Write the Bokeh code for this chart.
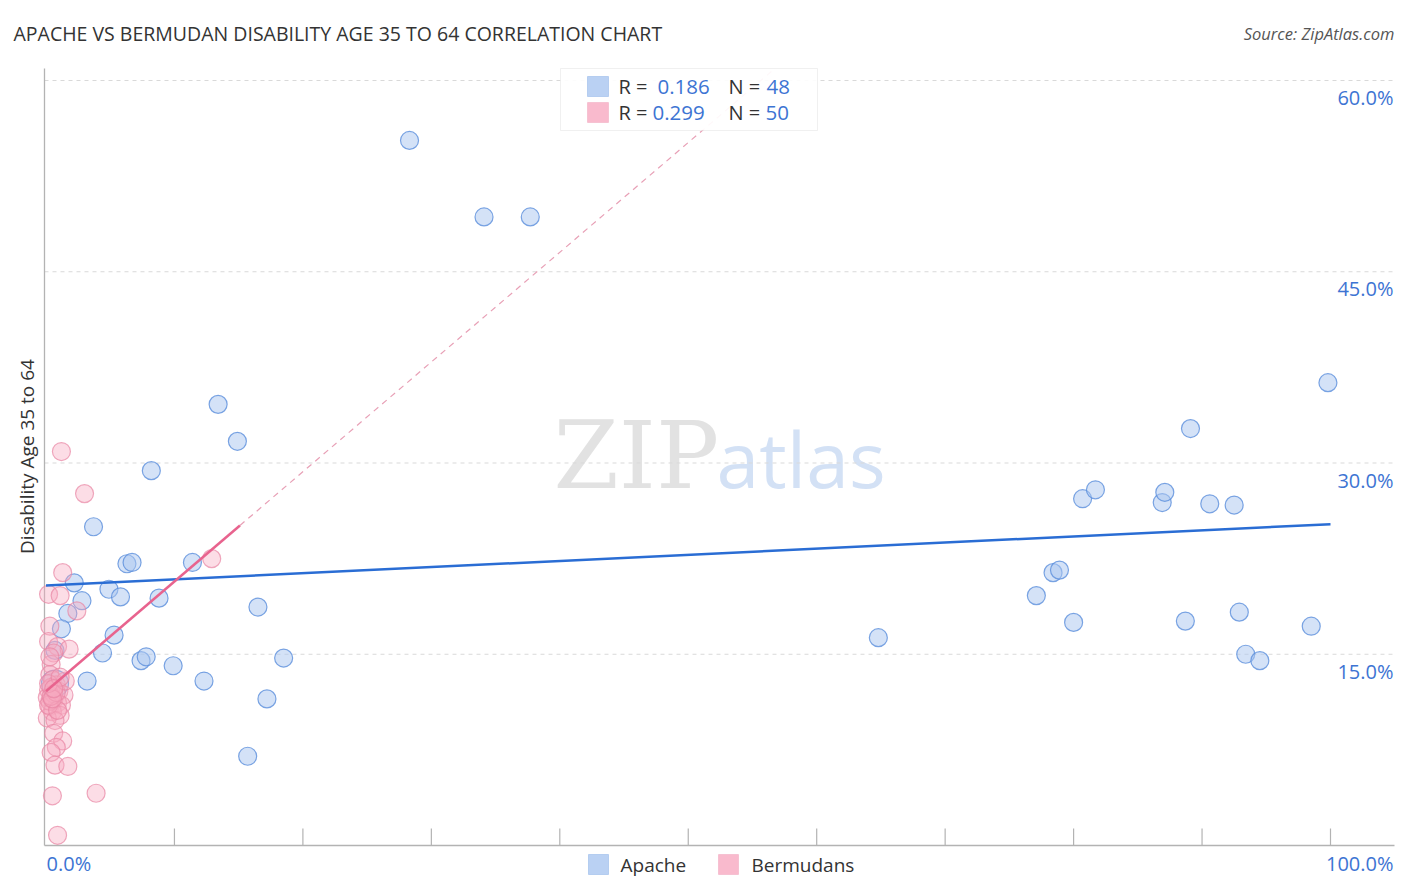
import numpy as np
from bokeh.plotting import figure
from bokeh.models import Label, BoxAnnotation, Range1d
from bokeh.embed import file_html
from bokeh.resources import INLINE

# ---------------- data ----------------
apache_x = [28.3, 34.1, 37.7, 13.4, 14.9, 8.2, 3.7, 6.3, 6.7, 11.4, 2.2, 4.9, 5.8, 2.8, 8.8, 1.7,
            16.5, 1.2, 5.3, 4.4, 0.7, 7.4, 7.8, 9.9, 18.5, 3.2, 12.3, 17.2, 15.7, 0.7,
            64.8, 77.1, 78.4, 78.9, 80.0, 80.7, 81.7, 86.9, 87.1, 89.1, 88.7, 90.6, 92.5,
            92.9, 93.4, 94.5, 98.5, 99.8]
apache_y = [55.3, 49.3, 49.3, 34.6, 31.7, 29.4, 25.0, 22.1, 22.2, 22.2, 20.6, 20.1, 19.5, 19.2, 19.4, 18.2,
            18.7, 17.0, 16.5, 15.1, 15.3, 14.5, 14.8, 14.1, 14.7, 12.9, 12.9, 11.5, 7.0, 12.7,
            16.3, 19.6, 21.4, 21.6, 17.5, 27.2, 27.9, 26.9, 27.7, 32.7, 17.6, 26.8, 26.7,
            18.3, 15.0, 14.5, 17.2, 36.3]
apache_size = [18] * 29 + [27] + [18] * 18

berm_x = [1.2, 3.0, 12.9, 1.3, 0.2, 1.1, 2.4, 0.3, 0.2, 0.9, 1.8, 0.6, 0.4, 0.3, 0.5, 0.8, 0.2,
          1.0, 1.4, 0.1, 0.6, 0.9, 0.3, 1.2, 0.5, 1.1, 0.1, 0.7, 0.3, 0.6, 1.3, 0.8, 0.4, 0.7,
          1.7, 0.5, 3.9, 0.9, 0.4, 0.6, 0.2, 0.9, 0.4, 0.8, 0.3, 0.5, 1.5, 0.2, 1.1, 0.6]
berm_y = [30.9, 27.6, 22.5, 21.4, 19.7, 19.6, 18.4, 17.2, 16.0, 15.6, 15.4, 15.1, 14.2, 13.4, 13.0,
          12.6, 12.2, 12.1, 11.8, 11.6, 11.4, 11.2, 10.9, 11.0, 10.5, 10.2, 10.0, 9.8, 11.3, 8.8,
          8.2, 7.7, 7.3, 6.3, 6.2, 3.9, 4.1, 0.8, 12.4, 11.9, 11.0, 10.6, 11.7, 12.0, 14.8, 11.5,
          12.9, 12.7, 13.2, 12.3]

apache_trend_x = [0, 100]
apache_trend_y = [20.4, 25.2]
berm_trend_x = [0, 15.1]
berm_trend_y = [12.1, 25.1]
berm_ext_x = [15.1, 56.7]
berm_ext_y = [25.1, 60.9]

y_ticks = [15, 30, 45, 60]
y_tick_labels = ["15.0%", "30.0%", "45.0%", "60.0%"]
x_ticks = [0, 10, 20, 30, 40, 50, 60, 70, 80, 90, 100]
x_end_labels = ["0.0%", "100.0%"]

stats = [("0.186", "48"), ("0.299", "50")]
series_names = ["Apache", "Bermudans"]
title_text = "APACHE VS BERMUDAN DISABILITY AGE 35 TO 64 CORRELATION CHART"
source_text = "Source: ZipAtlas.com"
y_title = "Disability Age 35 to 64"

# ---------------- styling / layout ----------------
BLUE_FILL = "#a9c6f0"
BLUE_LINE = "#5b8fdc"
PINK_FILL = "#f7a9c0"
PINK_LINE = "#e886a4"
LABEL_BLUE = "#3d74d3"
AXIS_GRAY = "#b3b3b3"
FONT = "Open Sans"

W, H = 1400, 886
SX = (1330 - 45.5) / 100.0   # px per % (x)
SY = (845 - 80) / 60.0       # px per % (y)


def fx(px):
    return (px - 45.5) / SX


def fy(py):
    return (845 - py) / SY


p = figure(width=W, height=H, output_backend="svg", toolbar_location=None,
           x_range=Range1d(fx(0), fx(W)), y_range=Range1d(fy(H), fy(0)),
           x_axis_location=None, y_axis_location=None, min_border=0, title=None)
p.outline_line_color = None
p.background_fill_color = "white"
p.border_fill_color = "white"
for g in p.grid:
    g.visible = False

FRAME_L, FRAME_R, FRAME_T = fx(44), fx(1394), fy(68)
TICK_H = 17 / SY

# dashed horizontal gridlines across the plot area
p.segment(x0=[FRAME_L] * len(y_ticks), y0=y_ticks, x1=[FRAME_R] * len(y_ticks), y1=y_ticks,
          line_color="#d9d9d9", line_dash="4 4", line_width=1)
# axis lines
p.segment(x0=[FRAME_L, FRAME_L], y0=[0, 0], x1=[FRAME_L, FRAME_R], y1=[FRAME_T, 0],
          line_color=AXIS_GRAY, line_width=1.3)
# x tick marks (inward)
tick_pos = [t for t in x_ticks if t > 0]
p.segment(x0=tick_pos, y0=[0] * len(tick_pos), x1=tick_pos, y1=[TICK_H] * len(tick_pos),
          line_color=AXIS_GRAY, line_width=1.2)

# watermark
p.add_layout(Label(x=fx(553), y=fy(455), text="ZIP", text_font="DejaVu Serif", text_font_size="94px",
                   text_color="#cfcfcf", text_alpha=0.6, text_baseline="middle", text_align="left",
                   level="underlay"))
p.add_layout(Label(x=fx(716), y=fy(458), text="atlas", text_font=FONT, text_font_size="77px",
                   text_color="#b5cdee", text_alpha=0.6, text_baseline="middle", text_align="left",
                   level="underlay"))

# points
p.scatter(apache_x, apache_y, size=apache_size, fill_color=BLUE_FILL, fill_alpha=0.5,
          line_color=BLUE_LINE, line_alpha=0.8, line_width=1.2)
p.scatter(berm_x, berm_y, size=18, fill_color=PINK_FILL, fill_alpha=0.4,
          line_color=PINK_LINE, line_alpha=0.7, line_width=1.2)

# trend lines
p.line(apache_trend_x, apache_trend_y, line_color="#2a6dd4", line_width=2.5)
p.line(berm_trend_x, berm_trend_y, line_color="#e8638e", line_width=2.5)
p.line(berm_ext_x, berm_ext_y, line_color="#e8a0b6", line_width=1.2, line_dash="6 5")

# y tick labels (inside plot, right side, under gridline)
for t, lab in zip(y_ticks, y_tick_labels):
    p.add_layout(Label(x=fx(1393), y=t - 17 / SY, text=lab, text_align="right", text_baseline="middle",
                       text_font=FONT, text_font_size="20px", text_color=LABEL_BLUE))

# x end labels
p.add_layout(Label(x=fx(46), y=fy(863), text=x_end_labels[0], text_align="left", text_baseline="middle",
                   text_font=FONT, text_font_size="20px", text_color=LABEL_BLUE))
p.add_layout(Label(x=fx(1393), y=fy(863), text=x_end_labels[1], text_align="right",
                   text_baseline="middle", text_font=FONT, text_font_size="20px", text_color=LABEL_BLUE))

# title & source
p.add_layout(Label(x=fx(13), y=fy(33), text=title_text, text_align="left", text_baseline="middle",
                   text_font=FONT, text_font_size="19.5px", text_color="#333333"))
p.add_layout(Label(x=fx(1394), y=fy(33), text=source_text, text_align="right", text_baseline="middle",
                   text_font=FONT, text_font_size="16.5px", text_font_style="italic", text_color="#555555"))

# y axis title
p.add_layout(Label(x=fx(26), y=fy(456), text=y_title, angle=np.pi / 2,
                   text_align="center", text_baseline="middle", text_font=FONT,
                   text_font_size="19px", text_color="#333333"))

# top stats legend
p.add_layout(BoxAnnotation(left=fx(560), right=fx(817), bottom=fy(130), top=FRAME_T, fill_color="white",
                           fill_alpha=0.92, line_color="#cccccc", line_width=1, level="overlay"))
rows_py = [86, 112]
boxes = [(BLUE_FILL, BLUE_LINE), (PINK_FILL, PINK_LINE)]
r_px = [657, 652]
n_px = [766, 765]
for (r, n), ry, (fc, lc), rx, nx in zip(stats, rows_py, boxes, r_px, n_px):
    p.add_layout(BoxAnnotation(left=fx(587), right=fx(608), bottom=fy(ry + 10), top=fy(ry - 10),
                               fill_color=fc, fill_alpha=0.8, line_color=lc, line_width=1, level="overlay"))
    p.add_layout(Label(x=fx(618), y=fy(ry), text="R =", text_baseline="middle", text_font=FONT,
                       text_font_size="20px", text_color="#333333", level="overlay"))
    p.add_layout(Label(x=fx(rx), y=fy(ry), text=r, text_baseline="middle", text_font=FONT,
                       text_font_size="20.5px", text_color=LABEL_BLUE, level="overlay"))
    p.add_layout(Label(x=fx(728), y=fy(ry), text="N =", text_baseline="middle", text_font=FONT,
                       text_font_size="20px", text_color="#333333", level="overlay"))
    p.add_layout(Label(x=fx(nx), y=fy(ry), text=n, text_baseline="middle", text_font=FONT,
                       text_font_size="20.5px", text_color=LABEL_BLUE, level="overlay"))

# bottom series legend
leg_sq_px = [588, 718]
leg_tx_px = [620, 751]
for name, (fc, lc), sq, tx in zip(series_names, boxes, leg_sq_px, leg_tx_px):
    p.add_layout(BoxAnnotation(left=fx(sq), right=fx(sq + 20), bottom=fy(874), top=fy(854),
                               fill_color=fc, fill_alpha=0.8, line_color=lc, line_width=1, level="overlay"))
    p.add_layout(Label(x=fx(tx), y=fy(864), text=name, text_baseline="middle", text_font=FONT,
                       text_font_size="19px", text_color="#333333", level="overlay"))

open("out.html", "w").write(file_html(p, INLINE))
